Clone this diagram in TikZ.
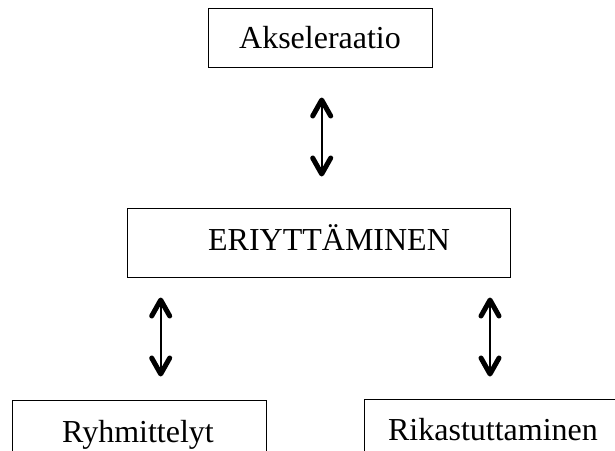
\documentclass[tikz,border=0pt]{standalone}
\usepackage{fontspec}
\setmainfont{Liberation Serif}
\usetikzlibrary{calc}
\tikzset{
  boxnode/.style={draw, line width=1pt, inner sep=0pt, rectangle},
  txt/.style={inner sep=0pt, font=\fontsize{32}{38}\selectfont, anchor=base},
  shaft/.style={line width=2pt},
  chev/.style={line width=5pt, line cap=round, line join=round}
}
\begin{document}
\begin{tikzpicture}[x=1pt,y=-1pt]
\useasboundingbox (0,0) rectangle (615,450);
\clip (0,0) rectangle (615,450);
% boxes
\node[boxnode, minimum width=224pt, minimum height=59pt] (akse) at (320,37.5) {};
\node[txt] (aksetxt) at (320,48) {Akseleraatio};
\node[boxnode, minimum width=383pt, minimum height=69pt] (eri) at (318.5,242.5) {};
\node[txt] (eritxt) at (329,250) {ERIYTTÄMINEN};
\node[boxnode, minimum width=254pt, minimum height=80pt] (ryh) at (139,440) {};
\node[txt] (ryhtxt) at (138,442) {Ryhmittelyt};
\node[boxnode, minimum width=258pt, minimum height=80pt] (rik) at (493,439) {};
\node[txt] (riktxt) at (493,440) {Rikastuttaminen};
% arrow end points
\coordinate (a1) at (321.7,100);
\coordinate (a2) at (321.7,174);
\coordinate (b1) at (160.7,300);
\coordinate (b2) at (160.7,374);
\coordinate (c1) at (490,300);
\coordinate (c2) at (490,374);
\foreach \s/\e in {a1/a2,b1/b2,c1/c2}{
  \draw[shaft] (\s) -- (\e);
  \draw[chev] ($(\s)+(-9,16)$) -- (\s) -- ($(\s)+(9,16)$);
  \draw[chev] ($(\e)+(-9,-16)$) -- (\e) -- ($(\e)+(9,-16)$);
}
\end{tikzpicture}
\end{document}
